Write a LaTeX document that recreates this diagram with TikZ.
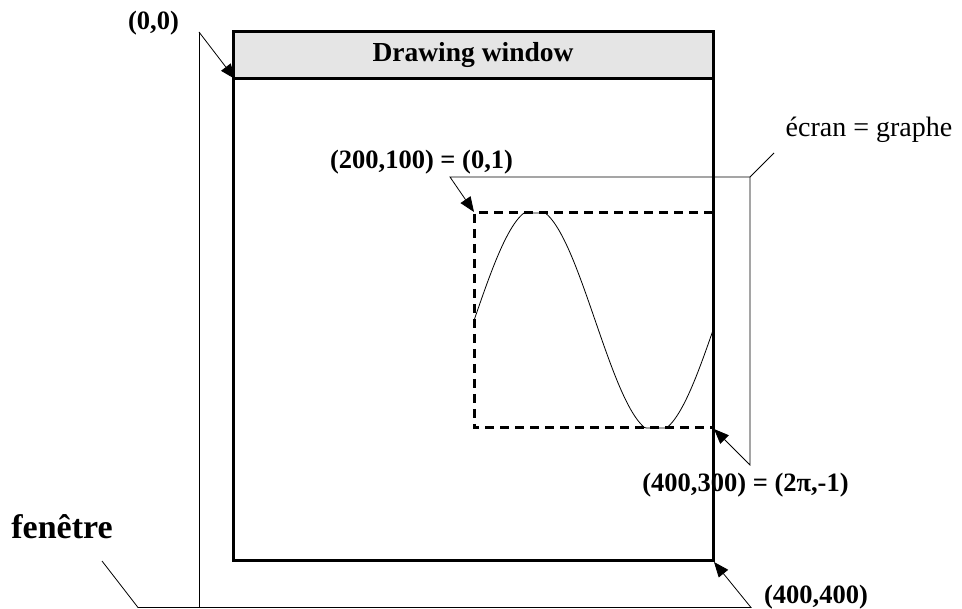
\documentclass[tikz,border=0pt]{standalone}
\usepackage{fontspec}
\setmainfont{Liberation Serif}
\usetikzlibrary{arrows.meta,positioning}

\begin{document}
\begin{tikzpicture}[x=1pt, y=-1pt, >={Triangle[length=15pt, width=12pt]},
  lbl/.style={inner sep=0pt, font=\fontsize{26.5pt}{30pt}\selectfont\bfseries},
  leader/.style={line width=0.8pt, black},
  frame/.style={line width=3pt, black}]
  \useasboundingbox (0,0) rectangle (962,609);

  % labels
  \node[lbl] (origin) at (153.5,23) {(0,0)};
  \node[lbl] (topleft) at (421.5,162) {(200,100) = (0,1)};
  \node[lbl] (botright) at (745.5,485) {(400,300) = (2π,-1)};
  \node[lbl] (corner) at (816,597) {(400,400)};
  \node[inner sep=0pt, font=\fontsize{28pt}{32pt}\selectfont] (ecran) at (869,130) {écran = graphe};
  \node[inner sep=0pt, font=\fontsize{34pt}{38pt}\selectfont\bfseries] (fen) at (62,527) {fenêtre};

  % leader points
  \coordinate (o0) at (199,32);
  \coordinate (o1) at (199,607.5);
  \coordinate (f0) at (102,561);
  \coordinate (f1) at (138,607.5);
  \coordinate (f2) at (751,607.5);
  \coordinate (e0) at (774,153);
  \coordinate (e1) at (750,177);
  \coordinate (e2) at (450,177);
  \coordinate (e3) at (750,465);
  \coordinate (tipO) at (235,79);
  \coordinate (tipA) at (474,212);
  \coordinate (tipB) at (714,429);
  \coordinate (tipC) at (714,562);

  \draw[leader, ->] (o0) -- (tipO);
  \draw[leader] (o0) -- (o1);
  \draw[leader, ->] (f0) -- (f1) -- (f2) -- (tipC);
  \draw[leader, ->] (e0) -- (e1) -- (e2) -- (tipA);
  \draw[leader, ->] (e1) -- (e3) -- (tipB);

  % window
  \fill[black!10] (233,32) rectangle (713,79);
  \node[inner sep=0pt, font=\fontsize{27.5pt}{31pt}\selectfont\bfseries] (title) at (473,55) {Drawing window};
  \draw[line width=3pt, dash pattern=on 9pt off 6pt] (713,213) -- (474,213) -- (474,428) -- (713,428);
  \draw[line width=0.8pt] plot[domain=0:1, samples=120, smooth]
    ({474+239*\x}, {320.5-107.5*max(-1,min(1,1.04*sin(\x*355)))});
  \draw[frame] (233,32) rectangle (713,561);
  \draw[frame] (233,79) -- (713,79);
\end{tikzpicture}
\end{document}
